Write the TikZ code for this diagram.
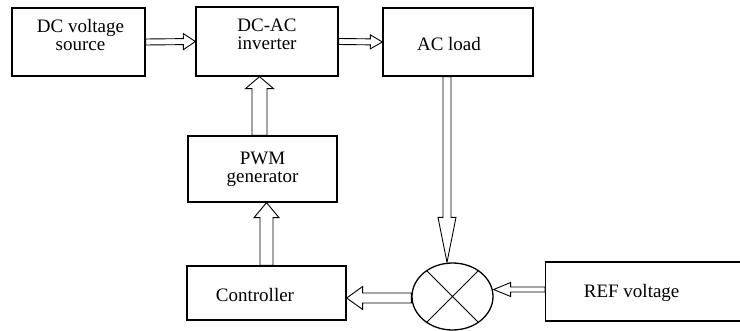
\documentclass[tikz,border=0pt]{standalone}
\usepackage{fontspec}
\setmainfont{LiberationSerif}[Extension=.ttf,UprightFont=*-Regular,BoldFont=*-Bold]
\usetikzlibrary{calc,shapes.geometric}

\tikzset{
  blk/.style={draw,line width=1.3pt,inner sep=0pt},
  txt/.style={font=\fontsize{19}{18}\selectfont,align=center,inner sep=0pt},
  flow/.style={draw,line width=0.9pt,fill=white,line join=miter},
}
% hollow block arrow: from, to, half shaft, half head, head length
\newcommand{\fatarrow}[5]{%
  \coordinate (hb) at ($(#2)!#5!(#1)$);
  \draw[flow] ($(#1)!#3!90:(#2)$) -- ($(hb)!#3!90:(#2)$) -- ($(hb)!#4!90:(#2)$)
    -- (#2) -- ($(hb)!#4!-90:(#2)$) -- ($(hb)!#3!-90:(#2)$) -- ($(#1)!#3!-90:(#2)$) -- cycle;
}

\begin{document}
\begin{tikzpicture}[x=1pt,y=-1pt]
\useasboundingbox (0,0) rectangle (740,331);
\node[blk,minimum width=133pt,minimum height=68pt,label={[txt,xshift=2pt,yshift=7pt]center:DC voltage\\source}] (src) at (78.5,42) {};
\node[blk,minimum width=142pt,minimum height=69pt,label={[txt,yshift=7pt]center:DC-AC\\inverter}] (inv) at (267,41.5) {};
\node[blk,minimum width=150pt,minimum height=68pt,label={[txt,xshift=-9pt,yshift=-2pt]center:AC load}] (load) at (458,42) {};
\node[blk,minimum width=149pt,minimum height=66pt,label={[txt]center:PWM\\generator}] (pwm) at (262.5,169) {};
\node[blk,minimum width=159pt,minimum height=54pt,label={[txt,xshift=-11.5pt,yshift=-2pt]center:Controller}] (ctrl) at (266.5,293) {};
\node[blk,anchor=west,minimum width=215pt,minimum height=59pt,label={[txt,xshift=-21.5pt,yshift=-1pt]center:REF voltage}] (ref) at (545,291.5) {};
\node[blk,ellipse,minimum width=81pt,minimum height=67pt] (mix) at (452.5,296.5) {};
\draw[line width=1pt] (mix.45) -- (mix.225) (mix.135) -- (mix.315);

% connectors
\coordinate (a1) at ($(pwm.north)+(-3,0)$);
\coordinate (a2) at (a1 |- inv.south);
\coordinate (b1) at (ctrl.north);
\coordinate (b2) at (b1 |- pwm.south);
\coordinate (c1) at ($(load.south)+(-11,0)$);
\coordinate (c2) at (c1 |- mix.north);
\coordinate (d1) at ($(ref.west)+(0,-2)$);
\coordinate (d2) at (d1 -| mix.east);
\coordinate (e1) at ($(mix.west)+(0,1.5)$);
\coordinate (e2) at (e1 -| ctrl.east);
\fatarrow{src.east}{inv.west}{3pt}{8pt}{12pt}
\fatarrow{inv.east}{load.west}{3pt}{7pt}{12pt}
\fatarrow{a1}{a2}{7.5pt}{14pt}{12pt}
\fatarrow{b1}{b2}{6.5pt}{12.5pt}{15pt}
\fatarrow{c1}{c2}{4pt}{9pt}{45pt}
\fatarrow{d1}{d2}{2.5pt}{7pt}{17pt}
\fatarrow{e1}{e2}{5pt}{11.5pt}{16pt}
\end{tikzpicture}
\end{document}
